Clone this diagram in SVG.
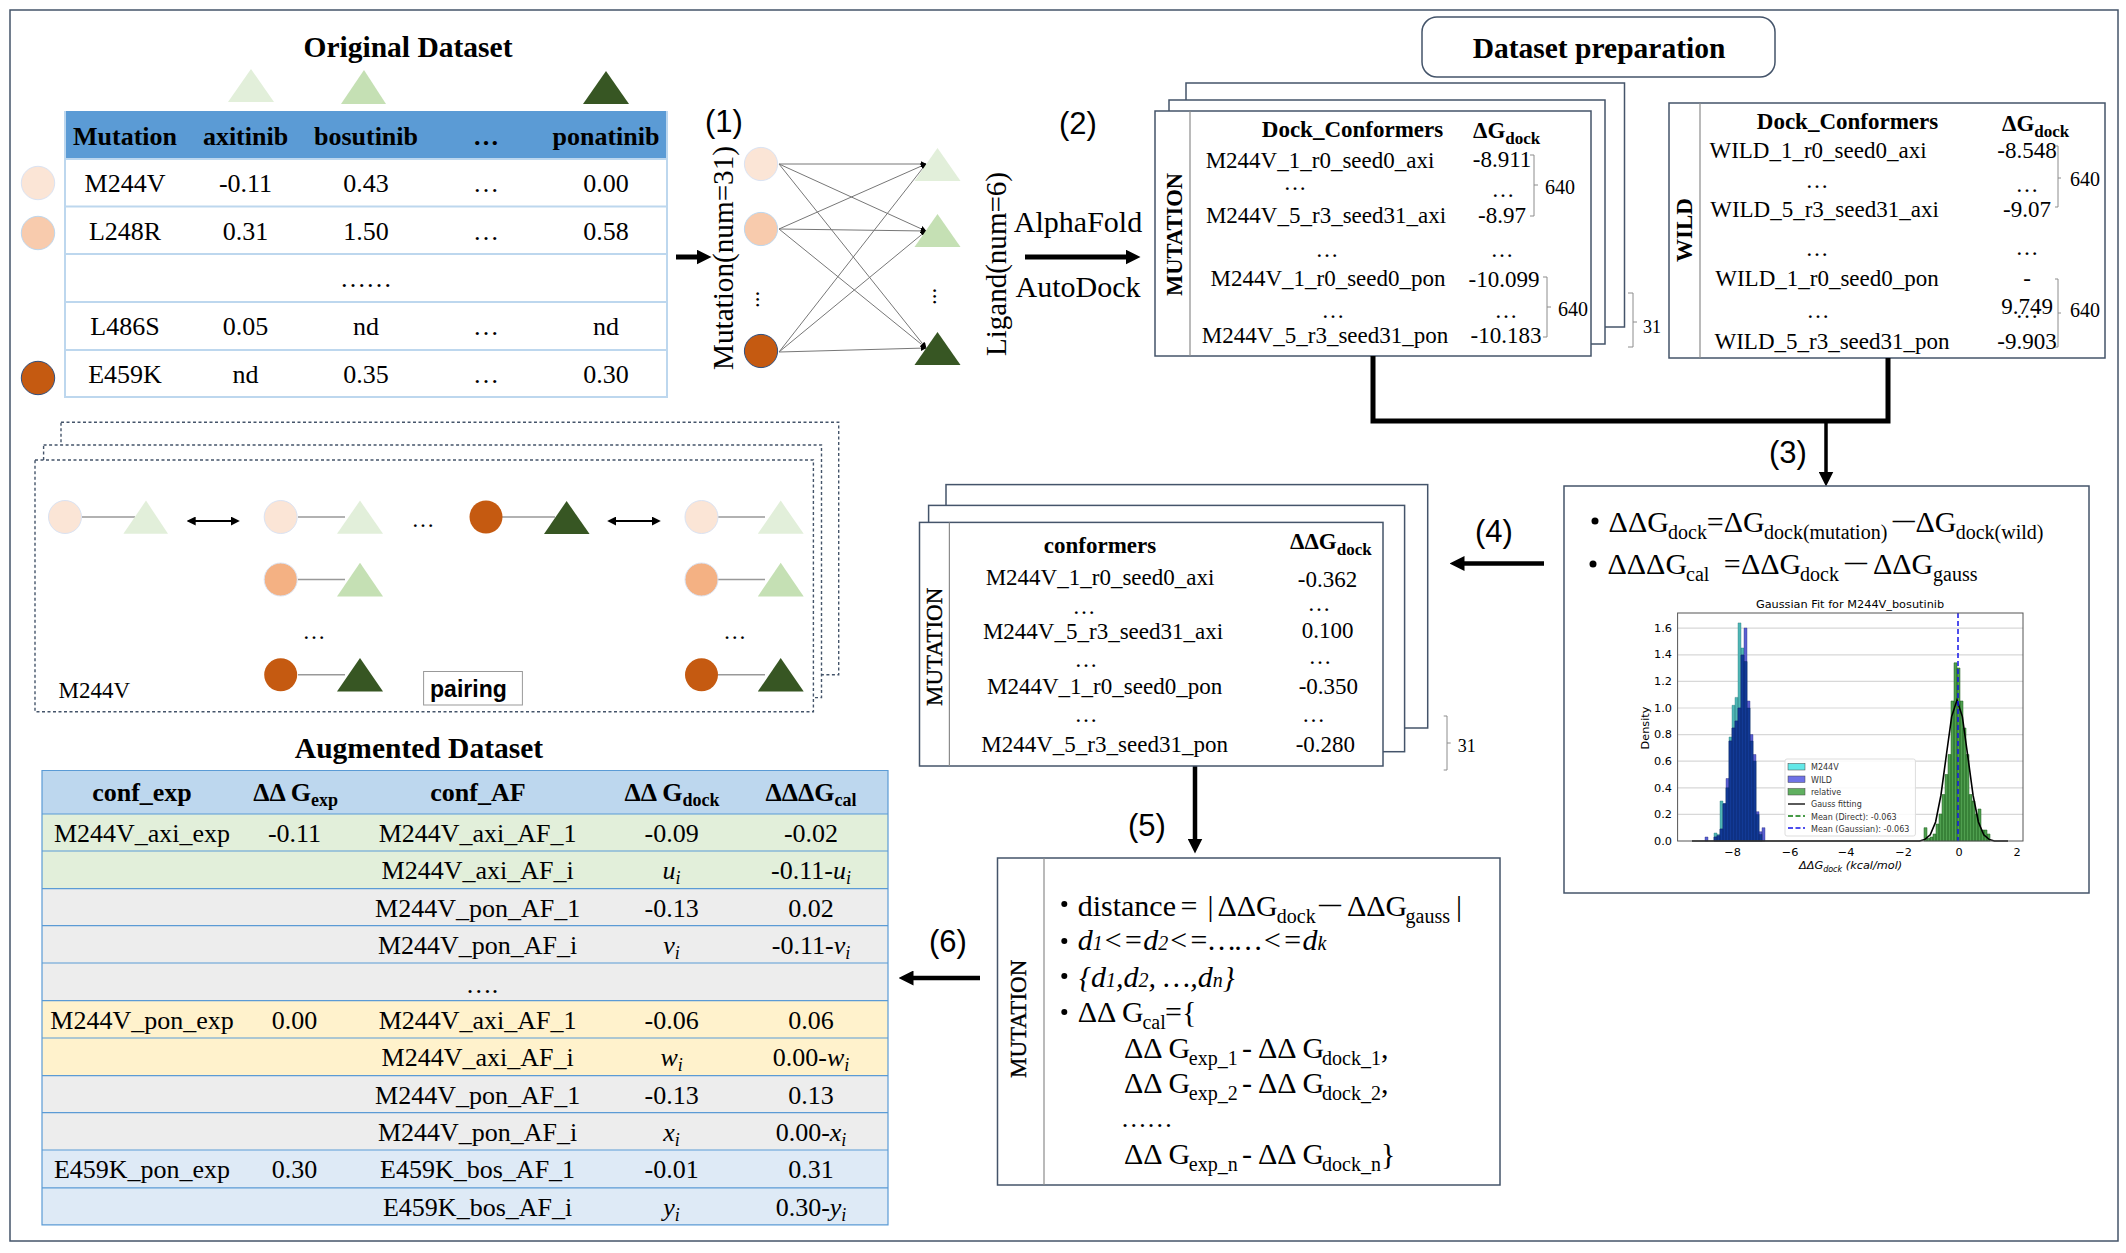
<svg xmlns="http://www.w3.org/2000/svg" width="2126" height="1253" viewBox="0 0 2126 1253">
<style>
text{font-family:"Liberation Serif","Times New Roman",serif;fill:#000}
.m{text-anchor:middle}
.b{font-weight:bold}
.f26{font-size:26px}.f23{font-size:23px}.f29{font-size:29.500px}.f30{font-size:30px}.f20{font-size:20px}.f18{font-size:18px}
.i{font-style:italic}
.n{font-family:"Liberation Sans",Arial,sans-serif;font-size:31px}
.dj text{font-family:"DejaVu Sans",sans-serif;font-size:11.300px}
text.dj{font-family:"DejaVu Sans",sans-serif;font-size:11.300px}
text.lg{font-family:"DejaVu Sans",sans-serif;font-size:8px;fill:#333}
.mu{font-size:23px;stroke:#000;stroke-width:.35}
.box{fill:#fff;stroke:#44546a;stroke-width:1.5}
.dash{fill:#fff;stroke:#44546a;stroke-width:1.4;stroke-dasharray:3 2.5}
.div{stroke:#8c8c8c;stroke-width:1.2;fill:none}
.br{stroke:#8c8c8c;stroke-width:1;fill:none}
.c1{fill:#fbe5d6;stroke:#dae3f3;stroke-width:1}
.c2{fill:#f8cbad;stroke:#bdd7ee;stroke-width:1}
.c2b{fill:#f4b183;stroke:#dae3f3;stroke-width:1}
.c3{fill:#c55a11;stroke:#2f4f7f;stroke-width:1}
.t1{fill:#e2efda}.t2{fill:#c5e0b4}.t3{fill:#375623}
.edge{stroke:#777;stroke-width:1;fill:none;marker-end:url(#tiny)}
.pl{stroke:#999;stroke-width:1.5;fill:none}
.hb{stroke:#000;fill:none}
.r1{stroke:#bdd7ee;stroke-width:2;fill:none}
.r2{stroke:#5b9bd5;stroke-width:1.2;fill:none}
.grid{stroke:#d8d8d8;stroke-width:1.2}
</style>
<defs>
<marker id="ah" markerUnits="userSpaceOnUse" markerWidth="15" markerHeight="15" viewBox="0 0 10 10" refX="3" refY="5" orient="auto"><path d="M0 0L10 5L0 10z" fill="#000"/></marker>
<marker id="tiny" markerUnits="userSpaceOnUse" markerWidth="6" markerHeight="6" viewBox="0 0 10 10" refX="9" refY="5" orient="auto"><path d="M0 0L10 5L0 10z" fill="#000"/></marker>
<marker id="dbl" markerUnits="userSpaceOnUse" markerWidth="9" markerHeight="9" viewBox="0 0 10 10" refX="8" refY="5" orient="auto-start-reverse"><path d="M0 0L10 5L0 10z" fill="#000"/></marker>
</defs>
<rect width="2126" height="1253" fill="#fff"/>
<rect x="10" y="10" width="2108" height="1231" fill="none" stroke="#44546a" stroke-width="1.5"/>

<g id="original-dataset">
<text x="408" y="57" class="m b f29">Original Dataset</text>
<polygon class="t1" points="251,69 228,102 274,102"/>
<polygon class="t2" points="364,70 341,104 386,104"/>
<polygon class="t3" points="606,71 583,104 629,104"/>
<rect x="65" y="111" width="602" height="48" fill="#5b9bd5"/>
<path class="r1" d="M65 111V397H667V111M65 159H667M65 206.500H667M65 254H667M65 302H667M65 350H667"/>
<g class="b f26">
<text x="125" y="145" class="m">Mutation</text><text x="245.500" y="145" class="m">axitinib</text><text x="366" y="145" class="m">bosutinib</text><text x="486" y="145" class="m">…</text><text x="606" y="145" class="m">ponatinib</text>
</g>
<g class="f26">
<text x="125" y="192" class="m">M244V</text><text x="245.500" y="192" class="m">-0.11</text><text x="366" y="192" class="m">0.43</text><text x="486" y="192" class="m">…</text><text x="606" y="192" class="m">0.00</text>
<text x="125" y="240" class="m">L248R</text><text x="245.500" y="240" class="m">0.31</text><text x="366" y="240" class="m">1.50</text><text x="486" y="240" class="m">…</text><text x="606" y="240" class="m">0.58</text>
<text x="366" y="287" class="m">……</text>
<text x="125" y="335" class="m">L486S</text><text x="245.500" y="335" class="m">0.05</text><text x="366" y="335" class="m">nd</text><text x="486" y="335" class="m">…</text><text x="606" y="335" class="m">nd</text>
<text x="125" y="383" class="m">E459K</text><text x="245.500" y="383" class="m">nd</text><text x="366" y="383" class="m">0.35</text><text x="486" y="383" class="m">…</text><text x="606" y="383" class="m">0.30</text>
</g>
<circle class="c1" cx="38" cy="183" r="16.700"/>
<circle class="c2" cx="38" cy="233" r="16.700"/>
<circle class="c3" cx="38" cy="378" r="16.700"/>
</g>

<g id="bipartite-graph">
<text x="724" y="132" class="m n">(1)</text>
<text transform="translate(733 370) rotate(-90)" class="f30" textLength="224" lengthAdjust="spacingAndGlyphs">Mutation(num=31)</text>
<text transform="translate(1006 356) rotate(-90)" class="f30" textLength="184" lengthAdjust="spacingAndGlyphs">Ligand(num=6)</text>
<path class="edge" d="M779 164L926 164"/><path class="edge" d="M779 164L926 231"/><path class="edge" d="M779 164L926 348"/>
<path class="edge" d="M779 229L926 164"/><path class="edge" d="M779 229L926 231"/><path class="edge" d="M779 229L926 348"/>
<path class="edge" d="M779 352L926 164"/><path class="edge" d="M779 352L926 231"/><path class="edge" d="M779 352L926 348"/>
<circle class="c1" cx="761" cy="164" r="16.600"/>
<circle class="c2" cx="761" cy="229" r="16.600"/>
<circle class="c3" cx="761" cy="351" r="16.600"/>
<polygon class="t1" points="937.500,148 914.500,181 960.500,181"/>
<polygon class="t2" points="937.500,214 914.500,247 960.500,247"/>
<polygon class="t3" points="937.500,332 914.500,365 960.500,365"/>
<text transform="translate(759 308) rotate(-90)" class="f23">...</text>
<text transform="translate(936 305) rotate(-90)" class="f23">...</text>
</g>

<g id="step-2-label">
<text x="1078" y="134" class="m n">(2)</text>
<text x="1078" y="232" class="m f30">AlphaFold</text>
<text x="1078" y="297" class="m f30">AutoDock</text>
</g>

<g id="dataset-preparation">
<rect x="1422" y="17" width="353" height="60" rx="15" fill="#fff" stroke="#44546a" stroke-width="1.5"/>
<text x="1599" y="58" class="m b f29">Dataset preparation</text>
</g>

<g id="mutation-stack">
<rect class="box" x="1186" y="83" width="438.500" height="244"/>
<rect class="box" x="1169" y="100" width="436" height="244"/>
<rect class="box" x="1155" y="111" width="436" height="245"/>
<path class="div" d="M1190 111V356"/>
<text transform="translate(1181.500 296) rotate(-90)" class="b" font-size="22.500">MUTATION</text>
<text x="1352.500" y="137" class="m b f23">Dock_Conformers</text>
<text x="1473" y="138" class="b f23">ΔG<tspan font-size="17" dy="6">dock</tspan></text>
<g class="f23">
<text x="1320" y="168" class="m">M244V_1_r0_seed0_axi</text><text x="1502" y="167" class="m">-8.911</text>
<text x="1295" y="190" class="m">…</text><text x="1503" y="197" class="m">…</text>
<text x="1326" y="223" class="m">M244V_5_r3_seed31_axi</text><text x="1502" y="223" class="m">-8.97</text>
<text x="1327" y="257" class="m">…</text><text x="1502" y="257" class="m">…</text>
<text x="1328" y="286" class="m">M244V_1_r0_seed0_pon</text><text x="1504" y="287" class="m">-10.099</text>
<text x="1333" y="318" class="m">…</text><text x="1506" y="318" class="m">…</text>
<text x="1325" y="343" class="m">M244V_5_r3_seed31_pon</text><text x="1506" y="343" class="m">-10.183</text>
</g>
<path class="br" d="M1530 155H1534V216H1530M1534 185H1538"/>
<text x="1560" y="194" class="m f20">640</text>
<path class="br" d="M1543 277H1547V337H1543M1547 307H1551"/>
<text x="1573" y="316" class="m f20">640</text>
<path class="br" d="M1628 293H1633V347H1628M1633 322H1637"/>
<text x="1652" y="333" class="m f18">31</text>
</g>

<g id="wild-box">
<rect class="box" x="1669" y="103" width="436" height="255"/>
<path class="div" d="M1700 103V358"/>
<text transform="translate(1691.500 262) rotate(-90)" class="b" font-size="23">WILD</text>
<text x="1847.500" y="129" class="m b f23">Dock_Conformers</text>
<text x="2002" y="131" class="b f23">ΔG<tspan font-size="17" dy="6">dock</tspan></text>
<g class="f23">
<text x="1818" y="158" class="m">WILD_1_r0_seed0_axi</text><text x="2027" y="158" class="m">-8.548</text>
<text x="1817" y="188" class="m">…</text><text x="2027" y="192" class="m">…</text>
<text x="1824.500" y="217" class="m">WILD_5_r3_seed31_axi</text><text x="2027" y="217" class="m">-9.07</text>
<text x="1817" y="256" class="m">…</text><text x="2027" y="255" class="m">…</text>
<text x="1827" y="286" class="m">WILD_1_r0_seed0_pon</text><text x="2027" y="286" class="m">-</text>
<text x="1818" y="318" class="m">…</text><text x="2027" y="314" class="m">9.749</text><text x="2027" y="318" class="m">…</text>
<text x="1832" y="349" class="m">WILD_5_r3_seed31_pon</text><text x="2027" y="349" class="m">-9.903</text>
</g>
<path class="br" d="M2055 146H2058V207H2055M2058 178H2061"/>
<text x="2085" y="186" class="m f20">640</text>
<path class="br" d="M2055 279H2058V347H2055M2058 313H2061"/>
<text x="2085" y="317" class="m f20">640</text>
</g>

<g id="connectors">
<path d="M1373 356V421H1888V358" fill="none" stroke="#000" stroke-width="5"/>
<path d="M1826 421V476" fill="none" stroke="#000" stroke-width="3.500" marker-end="url(#ah)"/>
<path d="M676 257H701" stroke="#000" stroke-width="5" marker-end="url(#ah)"/>
<path d="M1025 257H1130" stroke="#000" stroke-width="5" marker-end="url(#ah)"/>
<path d="M1544 563.500H1460" stroke="#000" stroke-width="4.500" marker-end="url(#ah)"/>
<path d="M1195 766V843" stroke="#000" stroke-width="4.500" marker-end="url(#ah)"/>
<path d="M980 978H909" stroke="#000" stroke-width="4.500" marker-end="url(#ah)"/>
</g>

<g id="step-labels">
<text x="1788" y="463" class="m n">(3)</text>
<text x="1494" y="542" class="m n">(4)</text>
<text x="1147" y="836" class="m n">(5)</text>
<text x="948" y="952" class="m n">(6)</text>
</g>

<g id="gauss-box">
<rect class="box" x="1564" y="486" width="525" height="407"/>
<circle cx="1595" cy="521" r="3.500"/><circle cx="1593" cy="564" r="3.500"/>
<text class="f30">
<tspan x="1608.600" y="532">ΔΔG</tspan><tspan class="f20" x="1668" y="539">dock</tspan><tspan x="1706.800" y="532">=</tspan><tspan x="1723.700" y="532">ΔG</tspan><tspan class="f20" x="1764" y="539">dock(mutation)</tspan><tspan x="1892.700" y="527" font-size="22" font-weight="bold">—</tspan><tspan x="1915.400" y="532">ΔG</tspan><tspan class="f20" x="1955.700" y="539">dock(wild)</tspan>
<tspan x="1607.500" y="574">ΔΔΔG</tspan><tspan class="f20" x="1686" y="581">cal</tspan><tspan x="1723.700" y="574">=</tspan><tspan x="1741" y="574">ΔΔG</tspan><tspan class="f20" x="1800" y="581">dock</tspan><tspan x="1845" y="569" font-size="22" font-weight="bold">—</tspan><tspan x="1873" y="574">ΔΔG</tspan><tspan class="f20" x="1933" y="581">gauss</tspan>
</text>
<text x="1850" y="608" class="m dj">Gaussian Fit for M244V_bosutinib</text>
<path class="grid" d="M1678 814.400H2023M1678 787.800H2023M1678 761.200H2023M1678 734.600H2023M1678 708H2023M1678 681.400H2023M1678 654.800H2023M1678 628.200H2023"/>
<path fill="#4fb6b6" stroke="#2c7c7c" stroke-width=".4" d="M1714 841V833h3V841zM1717 841V834.400h3V841zM1720 841V801h3V841zM1723 841V803.800h3V841zM1726 841V787.800h3V841zM1729 841V737h3V841zM1732 841V705.300h3V841zM1735 841V697.400h3V841zM1738 841V622.900h3V841zM1741 841V648h3V841zM1744 841V661.500h3V841zM1747 841V708h3V841zM1750 841V741h3V841zM1753 841V761h3V841zM1756 841V814.400h3V841zM1759 841V834.400h3V841z"/>
<path fill="#5a60d2" stroke="#2c2f80" stroke-width=".4" d="M1705 841V837h3V841zM1714 841V837h3V841zM1717 841V835.700h3V841zM1720 841V829h3V841zM1723 841V803.800h3V841zM1726 841V778.500h3V841zM1729 841V741h3V841zM1732 841V728h3V841zM1735 841V721h3V841zM1738 841V708h3V841zM1741 841V655h3V841zM1744 841V628h3V841zM1747 841V701h3V841zM1750 841V734.600h3V841zM1753 841V754.500h3V841zM1756 841V811.700h3V841zM1759 841V831.700h3V841zM1762 841V827.700h3V841z"/>
<path fill="#123a96" stroke="#0b2466" stroke-width=".4" d="M1714 841V837h3V841zM1717 841V835.700h3V841zM1720 841V829h3V841zM1723 841V803.800h3V841zM1726 841V787.800h3V841zM1729 841V741h3V841zM1732 841V728h3V841zM1735 841V721h3V841zM1738 841V708h3V841zM1741 841V655h3V841zM1744 841V661.500h3V841zM1747 841V708h3V841zM1750 841V741h3V841zM1753 841V761h3V841zM1756 841V814.400h3V841zM1759 841V834.400h3V841z"/>
<path fill="#4f9f4f" stroke="#1f5f1f" stroke-width=".5" d="M1924 841V827.700h3V841zM1927 841V838.300h3V841zM1930 841V837h3V841zM1933 841V834h3V841zM1936 841V824h3V841zM1939 841V814h3V841zM1942 841V794.500h3V841zM1945 841V774.500h3V841zM1948 841V754.500h3V841zM1951 841V701h3V841zM1954 841V662.800h3V841zM1957 841V668h3V841zM1960 841V701h3V841zM1963 841V728h3V841zM1966 841V754.500h3V841zM1969 841V794.500h3V841zM1972 841V801h3V841zM1975 841V814h3V841zM1978 841V809h3V841zM1981 841V830h3V841zM1984 841V830h3V841zM1987 841V834h3V841z"/>
<path d="M1692 841H1919.550L1924.900 839.400L1930.250 834.800L1935.600 822L1940.950 795.200L1946.300 755.500L1951.650 716.600L1957 700L1962.350 716.600L1967.700 755.500L1973.050 795.200L1978.400 822L1983.750 834.800L1989.100 839.400L1994.450 841H2008" fill="none" stroke="#000" stroke-width="1.600"/>
<path d="M1958 613V841" stroke="#1515e8" stroke-width="1.500" stroke-dasharray="5 3"/>
<rect x="1677.600" y="613" width="345.400" height="228" fill="none" stroke="#555" stroke-width="1"/>
<g class="dj">
<text x="1672" y="845" text-anchor="end">0.0</text><text x="1672" y="818" text-anchor="end">0.2</text><text x="1672" y="792" text-anchor="end">0.4</text><text x="1672" y="765" text-anchor="end">0.6</text><text x="1672" y="738" text-anchor="end">0.8</text><text x="1672" y="712" text-anchor="end">1.0</text><text x="1672" y="685" text-anchor="end">1.2</text><text x="1672" y="658" text-anchor="end">1.4</text><text x="1672" y="632" text-anchor="end">1.6</text>
<text x="1732.700" y="855.500" class="m">−8</text><text x="1790" y="855.500" class="m">−6</text><text x="1846" y="855.500" class="m">−4</text><text x="1903.500" y="855.500" class="m">−2</text><text x="1959" y="855.500" class="m">0</text><text x="2017" y="855.500" class="m">2</text>
<text x="1850.600" y="869" class="m i">ΔΔG<tspan font-size="8" dy="3">dock</tspan><tspan dy="-3"> (kcal/mol)</tspan></text>
<text transform="translate(1649 728) rotate(-90)" class="m">Density</text>
</g>
<rect x="1785" y="759" width="130.400" height="77" rx="2" fill="#fff" fill-opacity=".85" stroke="#ddd"/>
<rect x="1788" y="763.500" width="17" height="6.500" fill="#63e8e8" stroke="#444" stroke-width=".5"/>
<rect x="1788" y="776" width="17" height="6.500" fill="#6f72e6" stroke="#444" stroke-width=".5"/>
<rect x="1788" y="788.500" width="17" height="6.500" fill="#60b060" stroke="#444" stroke-width=".5"/>
<path d="M1788 804H1805" stroke="#000" stroke-width="1.300"/>
<path d="M1788 816H1805" stroke="#0a7a0a" stroke-width="1.300" stroke-dasharray="5 2.500"/>
<path d="M1788 828H1805" stroke="#1515e8" stroke-width="1.300" stroke-dasharray="5 2.500"/>
<text class="lg" x="1811" y="770">M244V</text><text class="lg" x="1811" y="782.500">WILD</text><text class="lg" x="1811" y="795">relative</text><text class="lg" x="1811" y="807">Gauss fitting</text><text class="lg" x="1811" y="819.500">Mean (Direct): -0.063</text><text class="lg" x="1811" y="831.500">Mean (Gaussian): -0.063</text>
</g>

<g id="conformers-stack">
<rect class="box" x="946" y="484.600" width="481.700" height="243.400"/>
<rect class="box" x="928.600" y="505.400" width="476" height="246.300"/>
<rect class="box" x="919.500" y="522.400" width="463.500" height="243.600"/>
<path class="div" d="M949.400 522.400V766"/>
<text transform="translate(942 706) rotate(-90)" class="mu">MUTATION</text>
<text x="1100" y="552.600" class="m b f23">conformers</text>
<text x="1290" y="549" class="b f23">ΔΔG<tspan font-size="17" dy="6">dock</tspan></text>
<g class="f23">
<text x="1100" y="584.700" class="m">M244V_1_r0_seed0_axi</text><text x="1327.500" y="587" class="m">-0.362</text>
<text x="1084" y="614" class="m">…</text><text x="1319" y="610.600" class="m">…</text>
<text x="1103" y="639" class="m">M244V_5_r3_seed31_axi</text><text x="1327.500" y="638" class="m">0.100</text>
<text x="1086" y="667" class="m">…</text><text x="1320" y="663.500" class="m">…</text>
<text x="1104.600" y="693.700" class="m">M244V_1_r0_seed0_pon</text><text x="1328.400" y="693.700" class="m">-0.350</text>
<text x="1086" y="721.500" class="m">…</text><text x="1313.600" y="721.500" class="m">…</text>
<text x="1104.600" y="752" class="m">M244V_5_r3_seed31_pon</text><text x="1325.400" y="752" class="m">-0.280</text>
</g>
<path class="br" d="M1443.700 716H1447V770H1443.700M1447 743H1450.700"/>
<text x="1466.700" y="751.700" class="m f18">31</text>
</g>

<g id="distance-box">
<rect class="box" x="997.500" y="858" width="502.500" height="327"/>
<path class="div" d="M1044 858V1185"/>
<text transform="translate(1026 1078) rotate(-90)" class="mu">MUTATION</text>
<circle cx="1064.300" cy="904" r="3"/><circle cx="1064.300" cy="941" r="3"/><circle cx="1064.300" cy="976" r="3"/><circle cx="1064.300" cy="1012" r="3"/>
<text class="f30">
<tspan x="1077.700" y="916">distance</tspan><tspan x="1180.500" y="916">=</tspan><tspan x="1207.400" y="916">|</tspan><tspan x="1217.400" y="916">ΔΔG</tspan><tspan class="f20" x="1276.800" y="923">dock</tspan><tspan x="1318.900" y="911" font-size="22" font-weight="bold">—</tspan><tspan x="1347" y="916">ΔΔG</tspan><tspan class="f20" x="1405.600" y="923">gauss</tspan><tspan x="1456" y="916">|</tspan>
</text>
<text class="f30 i" x="1077.700" y="950">d<tspan class="f20">1</tspan>&lt;=d<tspan class="f20">2</tspan>&lt;=……&lt;=d<tspan class="f20">k</tspan></text>
<text class="f30 i" x="1079" y="986.700">{d<tspan class="f20">1</tspan>,d<tspan class="f20">2</tspan>, …,d<tspan class="f20">n</tspan>}</text>
<text class="f30">
<tspan x="1077.700" y="1022">ΔΔ G</tspan><tspan class="f20" x="1142.400" y="1029">cal</tspan><tspan x="1165" y="1022">={</tspan>
<tspan x="1124" y="1057.500">ΔΔ G</tspan><tspan class="f20" x="1188.800" y="1064.500">exp_1</tspan><tspan x="1242" y="1057.500">-</tspan><tspan x="1258" y="1057.500">ΔΔ G</tspan><tspan class="f20" x="1322" y="1064.500">dock_1</tspan><tspan x="1381" y="1057.500">,</tspan>
<tspan x="1124" y="1093">ΔΔ G</tspan><tspan class="f20" x="1188.800" y="1100">exp_2</tspan><tspan x="1242" y="1093">-</tspan><tspan x="1258" y="1093">ΔΔ G</tspan><tspan class="f20" x="1322" y="1100">dock_2</tspan><tspan x="1381" y="1093">,</tspan>
<tspan x="1120.700" y="1127" font-size="26">……</tspan>
<tspan x="1124" y="1163.700">ΔΔ G</tspan><tspan class="f20" x="1188.800" y="1170.700">exp_n</tspan><tspan x="1242" y="1163.700">-</tspan><tspan x="1258" y="1163.700">ΔΔ G</tspan><tspan class="f20" x="1322" y="1170.700">dock_n</tspan><tspan x="1381" y="1163.700">}</tspan>
</text>
</g>

<g id="pairing-panel">
<rect class="dash" x="61" y="422.300" width="777.700" height="252.500"/>
<rect class="dash" x="43.600" y="445" width="777.900" height="252.600"/>
<rect class="dash" x="35" y="460" width="778.400" height="251.700"/>
<path class="pl" d="M82 517H135M298 517H345M502 517H555M718 517H765M298 579.500H345M718 579.500H765M298 674.800H345M718 674.800H765"/>
<circle class="c1" cx="65" cy="517" r="16.500"/>
<polygon class="t1" points="146,500.600 123.400,533.800 168,533.800"/>
<path class="hb" d="M188.500 521H238" stroke-width="2" marker-start="url(#dbl)" marker-end="url(#dbl)"/>
<circle class="c1" cx="280.700" cy="517" r="16.500"/>
<polygon class="t1" points="360,500.600 337,533.800 383,533.800"/>
<circle class="c2b" cx="280.700" cy="579.500" r="16.500"/>
<polygon class="t2" points="360,562.700 337,596.400 383,596.400"/>
<text x="314" y="639" class="m f23">…</text>
<circle class="c3" cx="280.700" cy="674.800" r="16.500" style="stroke:none"/>
<polygon class="t3" points="360,658 337,691.600 383,691.600"/>
<text x="423" y="527" class="m f23">…</text>
<circle class="c3" cx="486" cy="517" r="16.500" style="stroke:none"/>
<polygon class="t3" points="566.600,501 544,534 589.600,534"/>
<path class="hb" d="M609 521H659" stroke-width="2" marker-start="url(#dbl)" marker-end="url(#dbl)"/>
<circle class="c1" cx="701.500" cy="517" r="16.500"/>
<polygon class="t1" points="780.700,500.600 757.800,533.800 803.700,533.800"/>
<circle class="c2b" cx="701.500" cy="579.500" r="16.500"/>
<polygon class="t2" points="780.700,562.700 757.800,596.400 803.700,596.400"/>
<text x="734.800" y="639" class="m f23">…</text>
<circle class="c3" cx="701.500" cy="674.800" r="16.500" style="stroke:none"/>
<polygon class="t3" points="780.700,658 757.800,691.600 803.700,691.600"/>
<text x="58.600" y="697.600" class="f23">M244V</text>
<rect x="423.600" y="671.500" width="98.800" height="33.500" fill="#fff" stroke="#999" stroke-width="1"/>
<text x="468.400" y="696.500" class="m b" style="font-family:'Liberation Sans',Arial,sans-serif" font-size="23">pairing</text>
</g>

<g id="augmented-dataset">
<text x="419" y="758" class="m b f29">Augmented Dataset</text>
<rect x="42" y="770.500" width="846" height="43.500" fill="#bdd7ee"/>
<rect x="42" y="814" width="846" height="74.600" fill="#e2efda"/>
<rect x="42" y="888.600" width="846" height="149.400" fill="#ededed"/>
<rect x="42" y="1000.600" width="846" height="75.100" fill="#fff2cc"/>
<rect x="42" y="1075.700" width="846" height="74.300" fill="#ededed"/>
<rect x="42" y="1150" width="846" height="74.800" fill="#deeaf6"/>
<path class="r2" d="M42 770.500H888V1224.800H42zM42 814H888M42 851H888M42 888.600H888M42 925.600H888M42 963H888M42 1000.600H888M42 1038H888M42 1075.700H888M42 1112.700H888M42 1150H888M42 1187.800H888"/>
<g class="b f26">
<text x="142" y="801" class="m">conf_exp</text>
<text x="295.600" y="801" class="m">ΔΔ G<tspan font-size="18" dy="5">exp</tspan></text>
<text x="478" y="801" class="m">conf_AF</text>
<text x="672" y="801" class="m">ΔΔ G<tspan font-size="18" dy="5">dock</tspan></text>
<text x="811" y="801" class="m">ΔΔΔG<tspan font-size="18" dy="5">cal</tspan></text>
</g>
<g class="f26">
<text x="142" y="842" class="m">M244V_axi_exp</text><text x="294.500" y="842" class="m">-0.11</text><text x="477.600" y="842" class="m">M244V_axi_AF_1</text><text x="671.600" y="842" class="m">-0.09</text><text x="811" y="842" class="m">-0.02</text>
<text x="477.600" y="879" class="m">M244V_axi_AF_i</text><text x="671.600" y="879" class="m i">u<tspan font-size="18" dy="5">i</tspan></text><text x="811" y="879" class="m">-0.11-<tspan class="i">u<tspan font-size="18" dy="5">i</tspan></tspan></text>
<text x="477.600" y="917" class="m">M244V_pon_AF_1</text><text x="671.600" y="917" class="m">-0.13</text><text x="811" y="917" class="m">0.02</text>
<text x="477.600" y="954" class="m">M244V_pon_AF_i</text><text x="671.600" y="954" class="m i">v<tspan font-size="18" dy="5">i</tspan></text><text x="811" y="954" class="m">-0.11-<tspan class="i">v<tspan font-size="18" dy="5">i</tspan></tspan></text>
<text x="482" y="993" class="m">….</text>
<text x="142" y="1029" class="m">M244V_pon_exp</text><text x="294.500" y="1029" class="m">0.00</text><text x="477.600" y="1029" class="m">M244V_axi_AF_1</text><text x="671.600" y="1029" class="m">-0.06</text><text x="811" y="1029" class="m">0.06</text>
<text x="477.600" y="1066" class="m">M244V_axi_AF_i</text><text x="671.600" y="1066" class="m i">w<tspan font-size="18" dy="5">i</tspan></text><text x="811" y="1066" class="m">0.00-<tspan class="i">w<tspan font-size="18" dy="5">i</tspan></tspan></text>
<text x="477.600" y="1104" class="m">M244V_pon_AF_1</text><text x="671.600" y="1104" class="m">-0.13</text><text x="811" y="1104" class="m">0.13</text>
<text x="477.600" y="1141" class="m">M244V_pon_AF_i</text><text x="671.600" y="1141" class="m i">x<tspan font-size="18" dy="5">i</tspan></text><text x="811" y="1141" class="m">0.00-<tspan class="i">x<tspan font-size="18" dy="5">i</tspan></tspan></text>
<text x="142" y="1178" class="m">E459K_pon_exp</text><text x="294.500" y="1178" class="m">0.30</text><text x="477.600" y="1178" class="m">E459K_bos_AF_1</text><text x="671.600" y="1178" class="m">-0.01</text><text x="811" y="1178" class="m">0.31</text>
<text x="477.600" y="1216" class="m">E459K_bos_AF_i</text><text x="671.600" y="1216" class="m i">y<tspan font-size="18" dy="5">i</tspan></text><text x="811" y="1216" class="m">0.30-<tspan class="i">y<tspan font-size="18" dy="5">i</tspan></tspan></text>
</g>
</g>
</svg>
